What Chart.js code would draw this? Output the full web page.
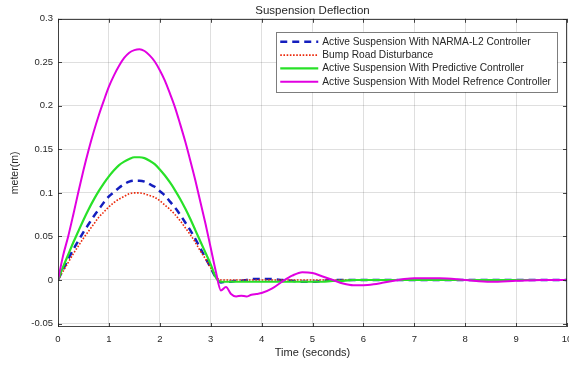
<!DOCTYPE html>
<html><head><meta charset="utf-8">
<script src="https://cdn.jsdelivr.net/npm/chart.js@4.4.1/dist/chart.umd.min.js"></script>
<style>html,body{margin:0;padding:0;background:#fff}</style>
</head><body>
<canvas id="c" width="569" height="368" style="display:block;width:569px;height:368px"></canvas>
<script>
// ---- data ----
const TIME = [0,0.1,0.2,0.3,0.4,0.5,0.6,0.7,0.8,0.9,1.0,1.1,1.2,1.3,1.4,1.5,1.6,1.7,1.8,1.9,2.0,2.1,2.2,2.3,2.4,2.5,2.6,2.7,2.8,2.9,3.0,3.1,
  3.2,3.3,3.4,3.5,3.6,3.7,3.8,3.9,4.0,
  4.2,4.4,4.6,4.8,5.0,5.2,5.4,5.6,5.8,6.0,6.2,6.4,6.6,6.8,7.0,
  7.5,8.0,8.5,9.0,9.5,10];

const NARMA = [0,0.012,0.024,0.035,0.045,0.055,0.064,0.073,0.081,0.089,0.096,0.101,0.106,0.110,0.113,0.114,0.114,0.113,0.110,0.107,0.102,0.097,0.090,0.083,0.075,0.066,0.057,0.047,0.036,0.025,0.014,0.003,
  -0.003,-0.002,-0.002,-0.001,-0.001,0,0.001,0.001,0.001,
  0.001,0,-0.001,-0.002,-0.002,-0.001,0,0,0,0,0,0,0,0,0,
  0,0,0,0,0,0];

const BUMP = [0,0.010,0.020,0.030,0.039,0.048,0.056,0.064,0.072,0.078,0.084,0.089,0.093,0.096,0.099,0.100,0.100,0.099,0.097,0.095,0.091,0.086,0.081,0.075,0.068,0.060,0.052,0.043,0.033,0.024,0.014,0.004,
  0,0,0,0,0,0,0,0,0,
  0,0,0,0,0,0,0,0,0,0,0,0,0,0,0,
  0,0,0,0,0,0];

const PREDICTIVE = [0,0.015,0.029,0.043,0.056,0.069,0.081,0.092,0.102,0.111,0.119,0.126,0.132,0.136,0.139,0.141,0.141,0.140,0.137,0.133,0.127,0.120,0.112,0.103,0.093,0.082,0.070,0.057,0.044,0.031,0.018,0.003,
  -0.002,-0.002,-0.002,-0.002,-0.002,-0.002,-0.002,-0.002,-0.002,
  -0.002,-0.002,-0.002,-0.002,-0.002,-0.002,-0.001,-0.001,0,0,0,0,0,0,0,
  0,0,0,0,0,0];

const MODEL_REF = [0,0.028,0.050,0.075,0.101,0.126,0.149,0.170,0.189,0.206,0.222,0.235,0.246,0.255,0.261,0.264,0.265,0.263,0.258,0.251,0.241,0.229,0.214,0.198,0.179,0.159,0.137,0.114,0.089,0.064,0.037,0.010,
  -0.012,-0.008,-0.016,-0.019,-0.018,-0.019,-0.017,-0.016,-0.015,
  -0.010,-0.002,0.005,0.009,0.008,0.004,0.000,-0.004,-0.006,-0.006,-0.005,-0.003,-0.001,0.001,0.002,
  0.002,0.000,-0.002,-0.001,0.000,0.000];

const SERIES_LABELS = [
  'Active Suspension With NARMA-L2 Controller',
  'Bump Road Disturbance',
  'Active Suspension With Predictive Controller',
  'Active Suspension With Model Refrence Controller'
];
const X_TICKS = [0,1,2,3,4,5,6,7,8,9,10];
const Y_TICKS = [-0.05,0,0.05,0.1,0.15,0.2,0.25,0.3];
const Y_TICK_LABELS = ['-0.05','0','0.05','0.1','0.15','0.2','0.25','0.3'];
const TITLE = 'Suspension Deflection';
const X_TITLE = 'Time (seconds)';
const Y_TITLE = 'meter(m)';

const pts = arr => TIME.map((t,i)=>({x:t,y:arr[i]}));
const FONT = '"Liberation Sans", Arial, Helvetica, sans-serif';
const TXT = '#262626';

const boxPlugin = {
  id:'boxPlugin',
  afterDatasetsDraw(chart){
    const {ctx, chartArea:ca, scales} = chart;
    ctx.save();
    // axes box
    ctx.strokeStyle = 'rgba(38,38,38,0.85)';
    ctx.lineWidth = 1;
    ctx.strokeRect(Math.round(ca.left)+0.5, Math.round(ca.top)+0.5, Math.round(ca.right-ca.left)-1, Math.round(ca.bottom-ca.top)-1);
    // inward tick marks
    ctx.beginPath();
    X_TICKS.forEach(v=>{const x=Math.round(scales.x.getPixelForValue(v))+0.5;
      ctx.moveTo(x,ca.bottom); ctx.lineTo(x,ca.bottom-4); ctx.moveTo(x,ca.top); ctx.lineTo(x,ca.top+4);});
    Y_TICKS.forEach(v=>{const y=Math.round(scales.y.getPixelForValue(v))+0.5;
      ctx.moveTo(ca.left,y); ctx.lineTo(ca.left+4,y); ctx.moveTo(ca.right,y); ctx.lineTo(ca.right-4,y);});
    ctx.stroke();
    // legend
    const ds = chart.data.datasets;
    ctx.font = '10.2px ' + FONT;
    let tw = 0; ds.forEach(d=>{tw=Math.max(tw, ctx.measureText(d.label).width);});
    const sample = 38, gap = 4, pad = 4;
    const w = pad + sample + gap + tw + 6;
    const rowH = 13.3;
    const h = rowH*ds.length + 7;
    const right = ca.right - 10, top = ca.top + 13;
    const left = right - w;
    ctx.fillStyle = '#fff';
    ctx.fillRect(left, top, w, h);
    ctx.strokeStyle = 'rgba(38,38,38,0.6)';
    ctx.lineWidth = 1;
    ctx.strokeRect(Math.round(left)+0.5, Math.round(top)+0.5, Math.round(w), Math.round(h));
    ds.forEach((d,i)=>{
      const yc = top + 10 + i*rowH;
      ctx.beginPath();
      ctx.strokeStyle = d.borderColor;
      ctx.lineWidth = d.borderWidth;
      ctx.setLineDash(d.borderDash || []);
      ctx.moveTo(left+pad, yc); ctx.lineTo(left+pad+sample, yc);
      ctx.stroke();
      ctx.setLineDash([]);
      ctx.fillStyle = TXT;
      ctx.textBaseline = 'middle';
      ctx.textAlign = 'left';
      ctx.fillText(d.label, left+pad+sample+gap, yc);
    });
    ctx.restore();
  }
};

new Chart(document.getElementById('c'), {
  type:'line',
  data:{datasets:[
    {label:SERIES_LABELS[0], data:pts(NARMA), borderColor:'rgb(20,30,190)', borderWidth:2.5, borderDash:[7,5], order:3},
    {label:SERIES_LABELS[1], data:pts(BUMP), borderColor:'rgb(235,40,10)', borderWidth:1.6, borderDash:[1.6,1.6], order:2},
    {label:SERIES_LABELS[2], data:pts(PREDICTIVE), borderColor:'rgb(40,225,40)', borderWidth:2.2, order:1},
    {label:SERIES_LABELS[3], data:pts(MODEL_REF), borderColor:'rgb(225,0,225)', borderWidth:2, order:0}
  ]},
  options:{
    responsive:false, animation:false, devicePixelRatio:1,
    parsing:true,
    elements:{point:{radius:0}, line:{tension:0, cubicInterpolationMode:'monotone', fill:false}},
    layout:{padding:{left:0,right:2,top:0,bottom:0}},
    plugins:{
      legend:{display:false}, tooltip:{enabled:false},
      title:{display:true, text:TITLE, fullSize:false, color:TXT, font:{family:FONT, size:11.5, weight:'normal'}, padding:{top:4,bottom:1}}
    },
    scales:{
      x:{type:'linear', min:0, max:10,
        afterBuildTicks:s=>{s.ticks = X_TICKS.map(v=>({value:v}));},
        afterFit:s=>{s.height = 41; s.paddingLeft = 0; s.paddingRight = 0;},
        ticks:{color:TXT, font:{family:FONT,size:9.5}, padding:7, maxRotation:0, autoSkip:false},
        grid:{color:'rgba(38,38,38,0.15)', drawTicks:false, lineWidth:1},
        border:{display:false},
        title:{display:true, text:X_TITLE, color:TXT, font:{family:FONT,size:11}, padding:{top:0,bottom:8}}
      },
      y:{type:'linear', min:-0.054, max:0.3,
        afterBuildTicks:s=>{s.ticks = Y_TICKS.map(v=>({value:v}));},
        afterFit:s=>{s.width = 58; s.paddingTop = 0; s.paddingBottom = 0;},
        ticks:{color:TXT, font:{family:FONT,size:9.5}, padding:5, autoSkip:false,
          callback:(v)=>{const i=Y_TICKS.findIndex(t=>Math.abs(t-v)<1e-9); return i>=0?Y_TICK_LABELS[i]:'';}},
        grid:{color:'rgba(38,38,38,0.15)', drawTicks:false, lineWidth:1},
        border:{display:false},
        title:{display:true, text:Y_TITLE, color:TXT, font:{family:FONT,size:10.5}, padding:{top:9,bottom:0}}
      }
    }
  },
  plugins:[boxPlugin]
});
</script>
</body></html>
